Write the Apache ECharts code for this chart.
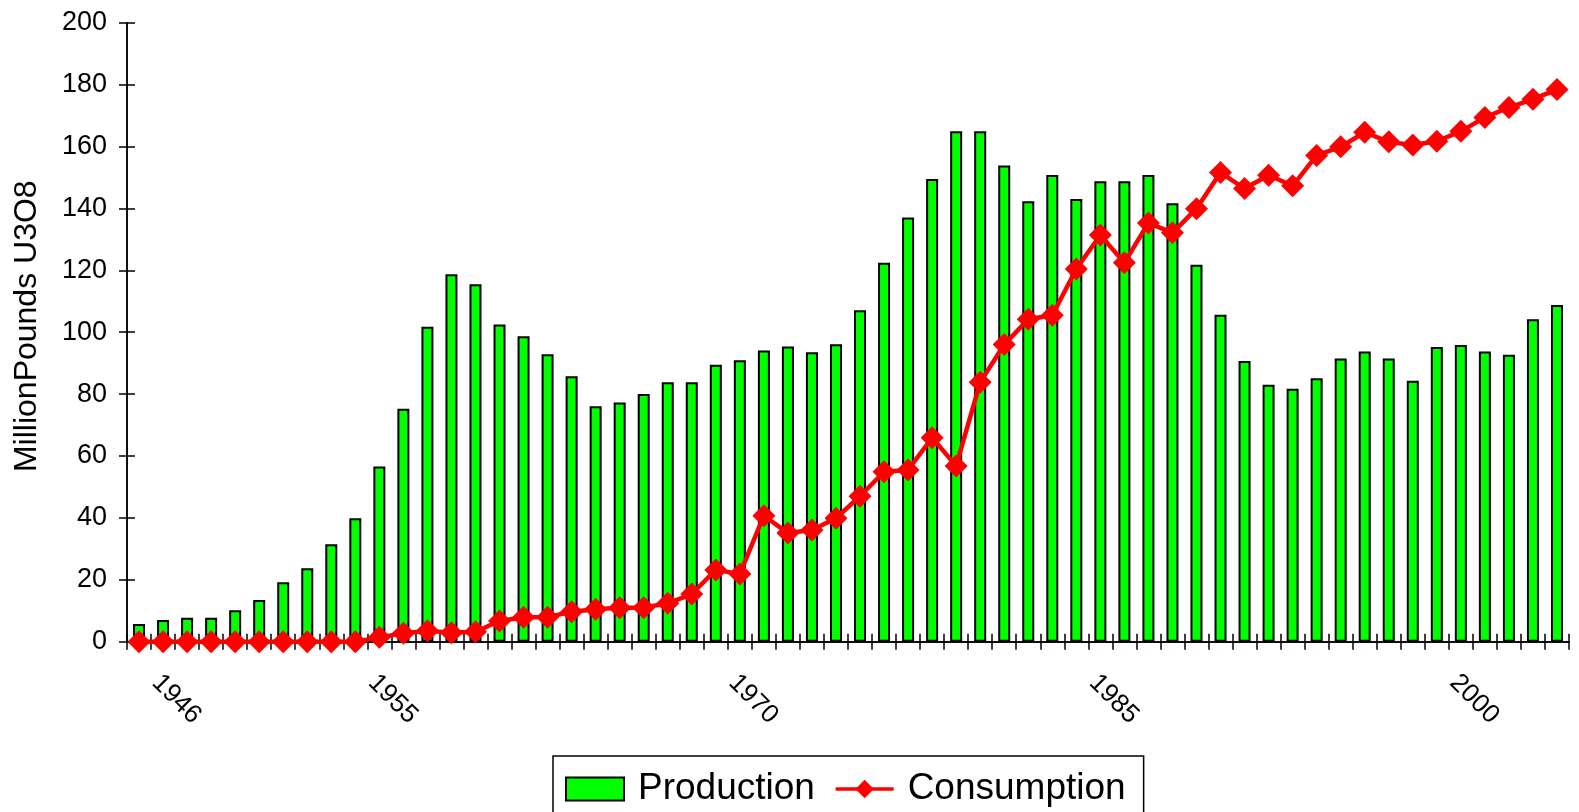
<!DOCTYPE html>
<html>
<head>
<meta charset="utf-8">
<script src="https://cdn.jsdelivr.net/npm/echarts@6/dist/echarts.min.js"></script>
<style>
html,body{margin:0;padding:0;background:#fff;}
#chart{width:1579px;height:812px;}
</style>
</head>
<body>
<div id="chart"></div>
<script>
const years = ['1946','1947','1948','1949','1950','1951','1952','1953','1954','1955',
  '1956','1957','1958','1959','1960','1961','1962','1963','1964','1965',
  '1966','1967','1968','1969','1970','1971','1972','1973','1974','1975',
  '1976','1977','1978','1979','1980','1981','1982','1983','1984','1985',
  '1986','1987','1988','1989','1990','1991','1992','1993','1994','1995',
  '1996','1997','1998','1999','2000','2001','2002','2003','2004','2005'];
const shownYears = ['1946','1955','1970','1985','2000'];
const production = [5.7,7.0,7.7,7.7,10.2,13.5,19.2,23.7,31.5,39.9,
  56.6,75.3,101.8,118.7,115.5,102.5,98.7,92.9,85.8,76.1,
  77.3,80.0,83.8,83.8,89.5,90.9,94.1,95.4,93.5,96.1,
  107.1,122.4,137.1,149.5,164.9,164.9,153.9,142.3,150.8,143.0,
  148.8,148.8,150.8,141.7,121.8,105.6,90.7,83.0,81.7,85.1,
  91.5,93.8,91.5,84.3,95.2,95.9,93.8,92.7,104.2,108.8];
const consumption = [0,0,0,0,0,0,0,0,0,0,
  1.4,2.7,3.5,2.9,3.2,6.7,7.9,7.9,9.7,10.5,
  11.0,11.0,12.4,15.4,23.2,21.9,40.7,35.1,36.1,39.9,
  47.0,54.9,55.5,65.9,56.8,83.8,96.0,104.2,105.5,120.4,
  131.4,122.4,135.3,132.1,139.9,151.6,146.4,150.7,147.3,157.1,
  159.9,164.6,161.5,160.5,161.7,164.9,169.4,172.6,175.3,178.4];
const yTicks = [0,20,40,60,80,100,120,140,160,180,200];

const FONT = 'Liberation Sans, Arial, sans-serif';
const chart = echarts.init(document.getElementById('chart'), null, {renderer:'canvas'});
const lineStyle = {color:'#000', width:1.5};
chart.setOption({
  animation:false,
  backgroundColor:'#fff',
  textStyle:{fontFamily:FONT, color:'#000'},
  grid:{left:127, right:10, top:22.7, bottom:170.3, containLabel:false},
  legend:{
    left:553, top:756,
    padding:[14.5,18,30,12],
    itemGap:19,
    itemWidth:58, itemHeight:23,
    borderColor:'#000', borderWidth:1.5,
    textStyle:{fontSize:37, color:'#000', fontFamily:FONT, padding:[0,0,0,9]},
    data:[{name:'Production', icon:'rect'},{name:'Consumption', lineStyle:{width:3.5, color:'#FF0000'}}]
  },
  xAxis:[{
    type:'category', data:years, position:'bottom', boundaryGap:true,
    axisLine:{lineStyle:lineStyle},
    axisTick:{show:true, interval:0, inside:false, length:8, lineStyle:lineStyle},
    axisLabel:{
      interval:(i, v) => shownYears.includes(v),
      rotate:-45, margin:20, fontSize:26, color:'#000', fontFamily:FONT,
      padding:[0,0,0,24]
    },
    splitLine:{show:false}
  },{
    type:'category', data:years, position:'bottom', boundaryGap:true,
    axisLine:{show:true, lineStyle:lineStyle},
    axisTick:{show:true, interval:0, inside:true, length:8, lineStyle:lineStyle},
    axisLabel:{show:false},
    splitLine:{show:false}
  }],
  yAxis:[{
    type:'value', min:yTicks[0], max:yTicks[yTicks.length-1], interval:20, position:'left',
    name:'MillionPounds U3O8', nameLocation:'middle', nameGap:84, nameRotate:90,
    nameTextStyle:{fontSize:32, color:'#000', fontFamily:FONT, padding:[0,0,0,12]},
    axisLine:{show:true, lineStyle:lineStyle},
    axisTick:{show:true, inside:false, length:8, lineStyle:lineStyle},
    axisLabel:{margin:20, fontSize:27, color:'#000', fontFamily:FONT},
    splitLine:{show:false}
  },{
    type:'value', min:yTicks[0], max:yTicks[yTicks.length-1], interval:20, position:'left',
    axisLine:{show:true, lineStyle:lineStyle},
    axisTick:{show:true, inside:true, length:8, lineStyle:lineStyle},
    axisLabel:{show:false},
    splitLine:{show:false}
  }],
  series:[{
    name:'Production', type:'bar', data:production,
    xAxisIndex:0, yAxisIndex:0,
    barWidth:12,
    itemStyle:{color:'#00FF00', borderColor:'#000', borderWidth:2}
  },{
    name:'Consumption', type:'line', data:consumption,
    xAxisIndex:0, yAxisIndex:0,
    symbol:'diamond', symbolSize:23, showAllSymbol:true,
    lineStyle:{color:'#FF0000', width:4.5},
    itemStyle:{color:'#FF0000'}
  }]
});
</script>
</body>
</html>
